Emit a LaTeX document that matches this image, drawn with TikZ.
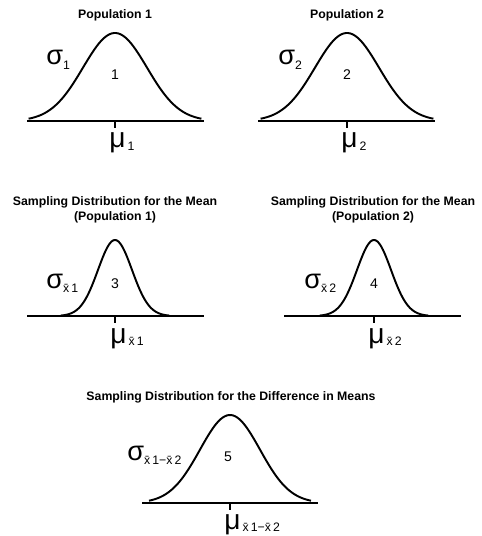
\documentclass[tikz,border=0pt]{standalone}
\usepackage{fontspec}
\setmainfont{Liberation Sans}
\usetikzlibrary{positioning}

\newcommand{\xb}{\={x}}
\newcommand{\sgm}[1]{{\fontsize{15.5}{15}\selectfont σ}\raisebox{-0.5ex}{\fontsize{7}{7}\selectfont #1}}
\newcommand{\muu}[1]{{\fontsize{16}{16}\selectfont μ}\raisebox{-0.3ex}{\fontsize{7}{7}\selectfont\,#1}}

\begin{document}
\begin{tikzpicture}[
x=0.02cm, y=-0.02cm,
ttl/.style={
font=\bfseries\fontsize{7}{8.5}\selectfont,
align=center,
inner sep=0pt
},
num/.style={font=\fontsize{8}{9}\selectfont, inner sep=0pt},
sym/.style={anchor=base west, inner sep=0pt},
bell/.style={line width=1.1pt, line join=round},
axis/.style={line width=1.1pt}
]
\useasboundingbox (0,0) rectangle (481,536);

% population 1
\node[ttl] (title1) at (115,15) {Population 1};
\draw[axis] (27,121) -- (204,121);
\draw[axis] (115,121) -- (115,128);
\draw[bell] plot[domain=-2.7:2.7,samples=80] ({115+32*\x},{121-88*exp(-0.5*\x*\x)});
\node[num] (n1) at (115,75) {1};
\node[sym] (sig1) at (46,65) {\sgm{1}};
\node[sym] (mu1) at (109,148) {\muu{1}};

% population 2
\node[ttl] (title2) at (347,15) {Population 2};
\draw[axis] (258,121) -- (435,121);
\draw[axis] (347,121) -- (347,128);
\draw[bell] plot[domain=-2.7:2.7,samples=80] ({347+32*\x},{121-88*exp(-0.5*\x*\x)});
\node[num] (n2) at (347,75) {2};
\node[sym] (sig2) at (278,65) {\sgm{2}};
\node[sym] (mu2) at (341,148) {\muu{2}};

% sampling distribution 1
\node[ttl] (title3) at (115,210) {Sampling Distribution for the Mean\\(Population 1)};
\draw[axis] (27,316) -- (204,316);
\draw[axis] (115,316) -- (115,323);
\draw[bell] plot[domain=-3.2:3.2,samples=80] ({115+17*\x},{316-76*exp(-0.5*\x*\x)});
\node[num] (n3) at (115,284) {3};
\node[sym] (sig3) at (46,288) {\sgm{\xb\,1}};
\node[sym] (mu3) at (110,343) {\muu{\xb\,1}};

% sampling distribution 2
\node[ttl] (title4) at (373,210) {Sampling Distribution for the Mean\\(Population 2)};
\draw[axis] (284,316) -- (461,316);
\draw[axis] (374,316) -- (374,323);
\draw[bell] plot[domain=-3.2:3.2,samples=80] ({374+17*\x},{316-76*exp(-0.5*\x*\x)});
\node[num] (n4) at (374,284) {4};
\node[sym] (sig4) at (304,288) {\sgm{\xb\,2}};
\node[sym] (mu4) at (368,343) {\muu{\xb\,2}};

% difference in means
\node[ttl] (title5) at (231,397) {Sampling Distribution for the Difference in Means};
\draw[axis] (142,503) -- (318,503);
\draw[axis] (230,503) -- (230,510);
\draw[bell] plot[domain=-2.7:2.7,samples=80] ({230+30*\x},{503-88*exp(-0.5*\x*\x)});
\node[num] (n5) at (228,457) {5};
\node[sym] (sig5) at (127,460) {\sgm{\xb\,1−\xb\,2}};
\node[sym] (mu5) at (224,529) {\muu{\xb\,1−\xb\,2}};

\end{tikzpicture}
\end{document}
